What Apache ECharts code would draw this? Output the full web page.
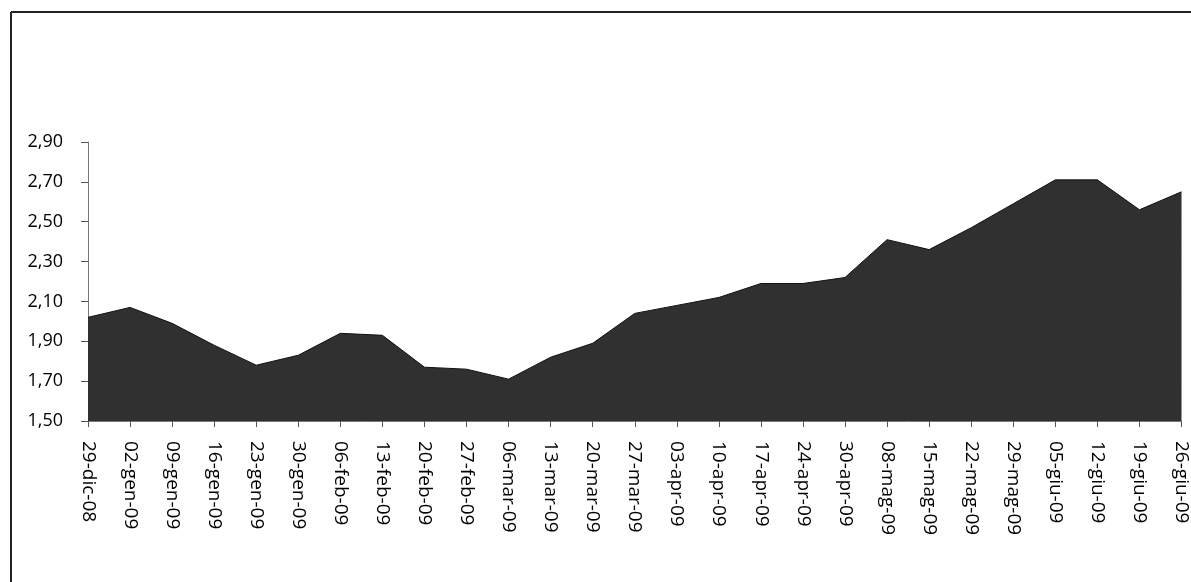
<!DOCTYPE html>
<html>
<head>
<meta charset="utf-8">
<script src="https://cdn.jsdelivr.net/npm/echarts@6/dist/echarts.min.js"></script>
<style>
html,body{margin:0;padding:0;background:#fff;}
#chart{width:1191px;height:582px;}
</style>
</head>
<body>
<div id="chart"></div>
<script>
const categories = ['29-dic-08','02-gen-09','09-gen-09','16-gen-09','23-gen-09','30-gen-09','06-feb-09','13-feb-09','20-feb-09','27-feb-09','06-mar-09','13-mar-09','20-mar-09','27-mar-09','03-apr-09','10-apr-09','17-apr-09','24-apr-09','30-apr-09','08-mag-09','15-mag-09','22-mag-09','29-mag-09','05-giu-09','12-giu-09','19-giu-09','26-giu-09'];
const values = [2.02, 2.07, 1.99, 1.88, 1.78, 1.83, 1.94, 1.93, 1.77, 1.76, 1.71, 1.82, 1.89, 2.04, 2.08, 2.12, 2.19, 2.19, 2.22, 2.41, 2.36, 2.47, 2.59, 2.71, 2.71, 2.56, 2.65];
const yMin = 1.5, yMax = 2.9, yStep = 0.2;

const chart = echarts.init(document.getElementById('chart'), null, {renderer: 'canvas'});
chart.setOption({
  animation: false,
  backgroundColor: '#ffffff',
  grid: {left: 88, right: 3, top: 142, bottom: 161, containLabel: false},
  xAxis: {
    type: 'category',
    data: categories,
    boundaryGap: false,
    axisLine: {show: true, lineStyle: {color: '#777', width: 1}},
    axisTick: {show: true, alignWithLabel: true, length: 6, lineStyle: {color: '#555'}},
    axisLabel: {
      interval: 0, rotate: -90, margin: 20,
      fontFamily: 'Open Sans', fontSize: 19, color: '#000'
    },
    splitLine: {show: false}
  },
  yAxis: {
    type: 'value',
    min: yMin, max: yMax, interval: yStep,
    axisLine: {show: true, lineStyle: {color: '#777', width: 1}},
    axisTick: {show: true, inside: false, length: 7, lineStyle: {color: '#555'}},
    axisLabel: {
      margin: 25, fontFamily: 'Open Sans', fontSize: 18, color: '#000',
      formatter: v => v.toFixed(2).replace('.', ',')
    },
    splitLine: {show: false}
  },
  series: [{
    type: 'line',
    data: values,
    showSymbol: false,
    smooth: false,
    lineStyle: {color: '#111', width: 1},
    areaStyle: {color: '#303030', opacity: 1, origin: 'start'}
  }],
  graphic: [
    {type: 'line', shape: {x1: 11, y1: 12, x2: 1191, y2: 12}, style: {stroke: '#222', lineWidth: 2}},
    {type: 'line', shape: {x1: 11, y1: 12, x2: 11, y2: 582}, style: {stroke: '#222', lineWidth: 2}}
  ]
});
</script>
</body>
</html>
